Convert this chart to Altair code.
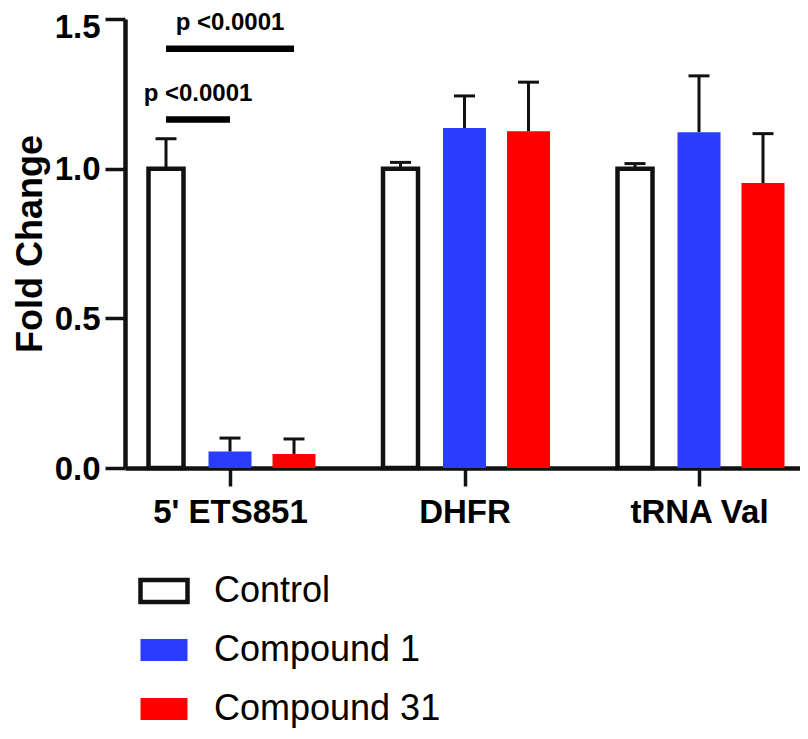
import json
import altair as alt
import pandas as pd

# ---------------- data ----------------
genes = ["5' ETS851", "DHFR", "tRNA Val"]
treatments = ["Control", "Compound 1", "Compound 31"]
fill_colors = ["#FFFFFF", "#2A3CFF", "#FF0000"]
stroke_colors = ["#111111", "transparent", "transparent"]

control_mean = [1.00, 1.00, 1.00]
control_err = [0.100, 0.021, 0.017]
cmp1_mean = [0.055, 1.136, 1.122]
cmp1_err = [0.045, 0.107, 0.188]
cmp31_mean = [0.047, 1.125, 0.952]
cmp31_err = [0.050, 0.164, 0.165]

sig_gene = ["5' ETS851", "5' ETS851"]
sig_from = ["Control", "Control"]
sig_to = ["Compound 1", "Compound 31"]
sig_bar_y = [1.164, 1.401]
sig_text_y = [1.227, 1.464]
sig_label = ["p <0.0001", "p <0.0001"]

y_ticks = [0.0, 0.5, 1.0, 1.5]

# ---------------- layout (not data) ----------------
W, H = 675, 449
PAD_TOP = 11
X_DOMAIN = [-0.4478, 2.4307]
UNIT_PX = W / (X_DOMAIN[1] - X_DOMAIN[0])
OFFSET = 64 / UNIT_PX                      # bar offset within a group
HALF = [17.5 / UNIT_PX, 21.5 / UNIT_PX, 21.5 / UNIT_PX]  # half bar widths

means = [control_mean, cmp1_mean, cmp31_mean]
errs = [control_err, cmp1_err, cmp31_err]
rows = []
for ti, t in enumerate(treatments):
    for gi, g in enumerate(genes):
        m = means[ti][gi]
        p = gi + (ti - 1) * OFFSET
        rows.append({
            "gene": g, "treatment": t, "pos": p,
            "lo": p - HALF[ti], "hi": p + HALF[ti],
            "mean": m, "base": 0.0, "upper": m + errs[ti][gi],
        })
df = pd.DataFrame(rows)

sig_rows = []
for g, a, b, by, ty, lab in zip(sig_gene, sig_from, sig_to, sig_bar_y, sig_text_y, sig_label):
    gi = genes.index(g)
    xa = gi + (treatments.index(a) - 1) * OFFSET
    xb = gi + (treatments.index(b) - 1) * OFFSET
    sig_rows.append({"xa": xa, "xb": xb, "mid": (xa + xb) / 2,
                     "bar_y": by, "text_y": ty, "label": lab})
sig = pd.DataFrame(sig_rows)

label_expr = json.dumps(genes) + "[datum.value]"

xscale = alt.Scale(domain=X_DOMAIN, nice=False, zero=False)
yscale = alt.Scale(domain=[0, 1.5], nice=False)

legend = alt.Legend(
    title=None, orient="none", legendX=13, legendY=546, direction="vertical",
    symbolType="M-1,-0.47H1V0.47H-1Z", symbolSize=2209, symbolStrokeWidth=4.5,
    labelFontSize=36, labelFont="Liberation Sans", labelColor="#000000",
    labelOffset=24, labelLimit=500, rowPadding=12, padding=0,
)

bars = alt.Chart(df).mark_rect(strokeWidth=4.5).encode(
    x=alt.X("lo:Q", scale=xscale, title=None,
            axis=alt.Axis(values=[0, 1, 2], labelExpr=label_expr, grid=False,
                          domainWidth=4.5, domainColor="#111111",
                          tickWidth=3.5, tickSize=18, tickColor="#111111",
                          labelFontSize=33, labelFontWeight="bold",
                          labelColor="#000000", labelPadding=10,
                          labelFont="Liberation Sans")),
    x2="hi:Q",
    y=alt.Y("mean:Q", scale=yscale, title="Fold Change",
            axis=alt.Axis(values=y_ticks, format=".1f", grid=False,
                          domainWidth=4.5, domainColor="#111111",
                          tickWidth=3.5, tickSize=20, tickColor="#111111",
                          labelFontSize=33, labelFontWeight="bold",
                          labelColor="#000000", labelPadding=5,
                          labelOffset={"condition": {"test": "datum.value === 1.5", "value": 8},
                                       "value": 1},
                          labelFont="Liberation Sans",
                          titleFontSize=36, titleFontWeight="bold",
                          titleColor="#000000", titlePadding=5,
                          titleFont="Liberation Sans")),
    y2="base:Q",
    fill=alt.Fill("treatment:N", scale=alt.Scale(domain=treatments, range=fill_colors),
                  legend=legend),
    stroke=alt.Stroke("treatment:N", scale=alt.Scale(domain=treatments, range=stroke_colors),
                      legend=legend),
)

err_line = alt.Chart(df).mark_rule(strokeWidth=3, color="#111111").encode(
    x=alt.X("pos:Q", scale=xscale, title=None),
    y=alt.Y("mean:Q", scale=yscale, title="Fold Change"),
    y2="upper:Q",
)

err_cap = alt.Chart(df).mark_tick(orient="horizontal", size=21, thickness=3,
                                  color="#111111", opacity=1).encode(
    x=alt.X("pos:Q", scale=xscale, title=None),
    y=alt.Y("upper:Q", scale=yscale, title="Fold Change"),
)

sig_bar = alt.Chart(sig).mark_rule(strokeWidth=6.5, color="#000000", strokeCap="butt").encode(
    x=alt.X("xa:Q", scale=xscale, title=None),
    x2="xb:Q",
    y=alt.Y("bar_y:Q", scale=yscale, title="Fold Change"),
)

sig_text = alt.Chart(sig).mark_text(fontSize=24, fontWeight="bold", font="Liberation Sans",
                                    baseline="alphabetic", align="center",
                                    color="#000000").encode(
    x=alt.X("mid:Q", scale=xscale, title=None),
    y=alt.Y("text_y:Q", scale=yscale, title="Fold Change"),
    text="label:N",
)

chart = alt.layer(bars, err_line, err_cap, sig_bar, sig_text).properties(
    width=W, height=H,
    autosize=alt.AutoSizeParams(type="none"),
    padding={"left": 117, "top": PAD_TOP, "right": 0, "bottom": 723 - PAD_TOP - H},
    background="#FFFFFF",
).configure_view(stroke=None)

chart.save("out.html", embed_options={"renderer": "svg", "actions": False})
